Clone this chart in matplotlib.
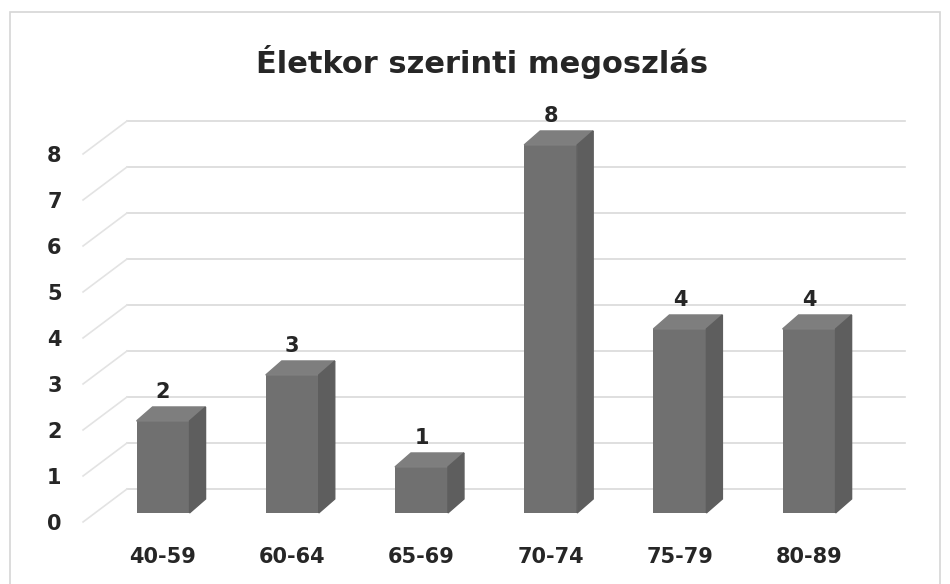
import numpy as np
import matplotlib.pyplot as plt
from matplotlib.patches import Polygon, Rectangle

# adatok
categories = ['40-59', '60-64', '65-69', '70-74', '75-79', '80-89']
values = [2, 3, 1, 8, 4, 4]
yticks = list(range(9))

plt.rcParams['font.family'] = 'DejaVu Sans'
plt.rcParams['font.weight'] = 'bold'

fig = plt.figure(figsize=(9.5, 5.84), dpi=100)
fig.patches.append(Rectangle((0.011, -0.01), 0.978, 0.99, transform=fig.transFigure,
                             fill=False, edgecolor='#d6d6d6', lw=1.2))

ax = fig.add_axes([0.0737, 0.0747, 0.8895, 0.7483])
ax.set_xlim(-0.72, 5.82)
ax.set_ylim(-0.4, 9.1)
for s in ax.spines.values():
    s.set_visible(False)

# 3D hatas: hatso fal es bal oldali fal
floor_x0, wall_x0, wall_x1, wall_dy = -0.619, -0.279, 5.743, 0.717
for v in yticks:
    ax.plot([wall_x0, wall_x1], [v + wall_dy] * 2, color='#d9d9d9', lw=1.2, zorder=1)
    ax.plot([floor_x0, wall_x0], [v, v + wall_dy], color='#e3e3e3', lw=1.2, zorder=1)

# oszlopok
x = np.arange(len(categories))
w, base, ddx, ddy = 0.41, 0.196, 0.124, 0.304
ax.bar(x, values, width=w, bottom=base, color='#707070', zorder=3)
for xi, v in zip(x, values):
    top = base + v
    ax.add_patch(Polygon([(xi - w / 2, top), (xi + w / 2, top),
                          (xi + w / 2 + ddx, top + ddy), (xi - w / 2 + ddx, top + ddy)],
                         closed=True, color='#7e7e7e', zorder=3))
    ax.add_patch(Polygon([(xi + w / 2, base), (xi + w / 2 + ddx, base + ddy),
                          (xi + w / 2 + ddx, top + ddy), (xi + w / 2, top)],
                         closed=True, color='#5e5e5e', zorder=3))
    ax.annotate(str(v), (xi, top + ddy), xytext=(0, 10.5), textcoords='offset points',
                ha='center', va='center', fontsize=15, fontweight='bold', color='#262626')

ax.set_yticks(yticks)
ax.set_yticklabels([str(t) for t in yticks])
ax.set_xticks(x)
ax.set_xticklabels(categories)
ax.tick_params(axis='y', length=0, pad=6, labelsize=15, labelcolor='#262626')
ax.tick_params(axis='x', length=0, pad=5, labelsize=15, labelcolor='#262626')
for lab in ax.get_xticklabels() + ax.get_yticklabels():
    lab.set_fontweight('bold')

fig.text(0.5075, 1 - 62 / 584, 'Életkor szerinti megoszlás', ha='center', va='center',
         fontsize=22, fontweight='bold', color='#262626')

plt.savefig('out.png', dpi=100)
